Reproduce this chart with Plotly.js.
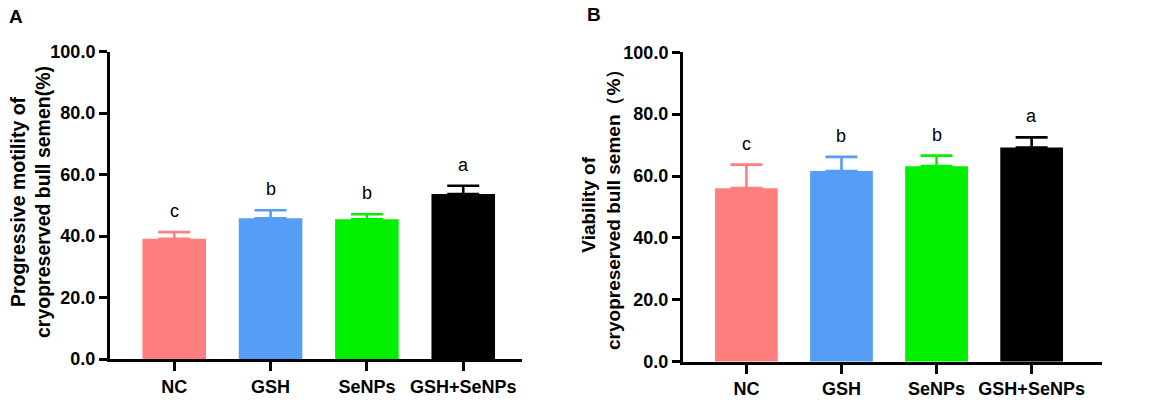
<!DOCTYPE html>
<html>
<head>
<meta charset="utf-8">
<script src="https://cdn.plot.ly/plotly-3.0.1.min.js"></script>
<style>html,body{margin:0;padding:0;background:#fff;}#chart{width:1170px;height:402px;}</style>
</head>
<body>
<div id="chart"></div>
<script>
var categories = ['NC', 'GSH', 'SeNPs', 'GSH+SeNPs'];
var barColors = ['#FF7F7F', '#559DF6', '#00F000', '#000000'];
var motilityMean = [39.1, 45.8, 45.5, 53.7];
var motilityErr = [2.2, 2.6, 1.6, 2.7];
var motilityLetters = ['c', 'b', 'b', 'a'];
var viabilityMean = [56.1, 61.6, 63.2, 69.2];
var viabilityErr = [7.6, 4.6, 3.4, 3.3];
var viabilityLetters = ['c', 'b', 'b', 'a'];
var yTicks = [0, 20, 40, 60, 80, 100];
var yTickText = ['0.0', '20.0', '40.0', '60.0', '80.0', '100.0'];

var FONT = 'Arial, "Liberation Sans", sans-serif';
var W = 1170, H = 402;

function barTrace(means, errs, xa, ya) {
  return {
    type: 'bar', x: categories, y: means, xaxis: xa, yaxis: ya,
    marker: {color: barColors, line: {width: 0}},
    width: 0.66,
    error_y: {type: 'data', array: errs, arrayminus: errs.map(function(){return 0;}), symmetric: false,
              visible: true, thickness: 2.6, width: 16, color: '#000'},
    showlegend: false, hoverinfo: 'skip'
  };
}
// error bars colored per bar: draw separate traces per category
var traces = [];
function addPanel(means, errs, xa, ya) {
  for (var i = 0; i < categories.length; i++) {
    traces.push({
      type: 'bar', x: [categories[i]], y: [means[i]], xaxis: xa, yaxis: ya,
      marker: {color: barColors[i], line: {width: 0}},
      width: 0.66,
      error_y: {type: 'data', array: [errs[i]], arrayminus: [0], symmetric: false,
                visible: true, thickness: 2.6, width: 16, color: barColors[i]},
      showlegend: false, hoverinfo: 'skip'
    });
  }
}
addPanel(motilityMean, motilityErr, 'x', 'y');
addPanel(viabilityMean, viabilityErr, 'x2', 'y2');

var annotations = [];
function addLetters(means, errs, letters, xr, yr) {
  for (var i = 0; i < categories.length; i++) {
    annotations.push({
      xref: xr, yref: yr, x: categories[i], y: means[i] + errs[i],
      text: letters[i], showarrow: false, yshift: 21, yanchor: 'middle',
      font: {family: FONT, size: 18, color: '#000'}
    });
  }
}
addLetters(motilityMean, motilityErr, motilityLetters, 'x', 'y');
addLetters(viabilityMean, viabilityErr, viabilityLetters, 'x2', 'y2');

annotations.push({xref: 'paper', yref: 'paper', x: 7/W, y: 1 - 16/H, xanchor: 'left', yanchor: 'middle',
  text: '<b>A</b>', showarrow: false, font: {family: FONT, size: 19, color: '#000'}});
annotations.push({xref: 'paper', yref: 'paper', x: 585/W, y: 1 - 15/H, xanchor: 'left', yanchor: 'middle',
  text: '<b>B</b>', showarrow: false, font: {family: FONT, size: 19, color: '#000'}});
annotations.push({xref: 'paper', yref: 'paper', x: 30/W, y: 1 - 202/H, xanchor: 'center', yanchor: 'middle',
  textangle: -90, text: '<b>Progressive motility of<br>cryopreserved bull semen(%)</b>', showarrow: false,
  font: {family: FONT, size: 19.5, color: '#000'}});
annotations.push({xref: 'paper', yref: 'paper', x: 601/W, y: 1 - 205/H, xanchor: 'center', yanchor: 'middle',
  textangle: -90, text: '<b>Viability of<br>cryopreserved bull semen\uFF08%\uFF09</b>', showarrow: false,
  font: {family: FONT, size: 19, color: '#000'}});

function xAxis(domain, range, anchor) {
  return {domain: domain, range: range, anchor: anchor, type: 'category',
    showline: true, linewidth: 3, linecolor: '#000', ticks: 'outside', ticklen: 9, tickwidth: 3, tickcolor: '#000',
    showgrid: false, zeroline: false, fixedrange: true,
    tickfont: {family: FONT, size: 18, color: '#000', weight: 'bold'}};
}
function yAxis(domain, anchor) {
  return {domain: domain, range: [0, 100], anchor: anchor,
    tickvals: yTicks, ticktext: yTickText,
    showline: true, linewidth: 3, linecolor: '#000', ticks: 'outside', ticklen: 8, tickwidth: 3, tickcolor: '#000',
    showgrid: false, zeroline: false, fixedrange: true,
    tickfont: {family: FONT, size: 18, color: '#000', weight: 'bold'}};
}

var layout = {
  width: W, height: H,
  margin: {l: 0, r: 0, t: 0, b: 0},
  paper_bgcolor: '#fff', plot_bgcolor: '#fff',
  font: {family: FONT, color: '#000'},
  bargap: 0.34,
  xaxis: xAxis([110/W, 522/W], [-0.667, 3.61], 'y'),
  yaxis: yAxis([1 - 359/H, 1 - 51.7/H], 'x'),
  xaxis2: xAxis([683/W, 1102/W], [-0.667, 3.74], 'y2'),
  yaxis2: yAxis([1 - 361.7/H, 1 - 52.3/H], 'x2'),
  annotations: annotations
};

Plotly.newPlot('chart', traces, layout, {displayModeBar: false, staticPlot: true});
</script>
</body>
</html>
